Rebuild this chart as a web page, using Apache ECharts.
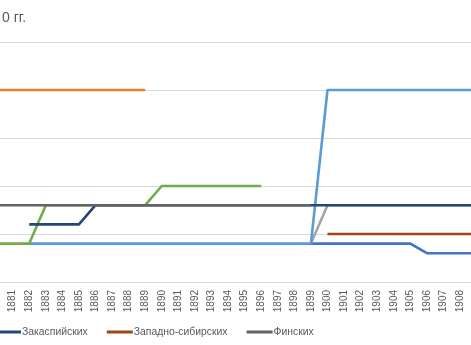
<!DOCTYPE html>
<html>
<head>
<meta charset="utf-8">
<script src="https://cdn.jsdelivr.net/npm/echarts@6/dist/echarts.min.js"></script>
<style>
html,body{margin:0;padding:0;background:#fff;overflow:hidden;width:471px;height:345px;position:relative;}
#chart{position:absolute;left:-40px;top:0;width:560px;height:345px;}
</style>
</head>
<body>
<div id="chart"></div>
<script>
// Categories (years)
var years = [];
for (var y = 1880; y <= 1909; y++) { years.push(String(y)); }

// Series values (null = no data)
var seriesBlue      = [null,null,null,null,null,null,null,null,null,null,null,null,null,null,null,null,null,null,null,4,4,4,4,4,4,4,3,3,3,3];
var seriesOrange    = [20,20,20,20,20,20,20,20,20,20,null,null,null,null,null,null,null,null,null,null,null,null,null,null,null,null,null,null,null,null];
var seriesLightGrey = [null,null,null,null,null,null,null,null,null,null,null,null,null,null,null,null,null,null,null,4,8,8,8,8,8,8,8,8,8,8];
var seriesLightBlue = [null,null,4,4,4,4,4,4,4,4,4,4,4,4,4,4,4,4,4,4,20,20,20,20,20,20,20,20,20,20];
var seriesGreen     = [4,4,4,8,8,8,8,8,8,8,10,10,10,10,10,10,10,null,null,null,null,null,null,null,null,null,null,null,null,null];
var seriesZakasp    = [null,null,6,6,6,6,8,8,8,8,8,8,8,8,8,8,8,8,8,8,8,8,8,8,8,8,8,8,8,8];
var seriesZapSib    = [null,null,null,null,null,null,null,null,null,null,null,null,null,null,null,null,null,null,null,null,5,5,5,5,5,5,5,5,5,5];
var seriesFin       = [8,8,8,8,8,8,8,8,8,8,8,8,8,8,8,8,8,8,8,8,null,null,null,null,null,null,null,null,null,null];

var legendNames = ['Закаспийских', 'Западно-сибирских', 'Финских'];
var titleText = '0 гг.';

var FONT = 'Liberation Sans';
var OFF = 40; // container offset to the left (px)

function mk(name, data, color) {
  var s = {
    type: 'line',
    data: data,
    showSymbol: false,
    symbol: 'none',
    connectNulls: false,
    lineStyle: { width: 2.6, color: color },
    itemStyle: { color: color },
    emphasis: { disabled: true },
    animation: false
  };
  if (name) s.name = name;
  return s;
}

var chart = echarts.init(document.getElementById('chart'), null, { renderer: 'canvas' });
chart.setOption({
  animation: false,
  backgroundColor: '#ffffff',
  title: {
    text: titleText,
    left: OFF - 3,
    top: 6,
    textStyle: { fontFamily: FONT, fontSize: 14, fontWeight: 'normal', color: '#595959' }
  },
  legend: {
    data: legendNames,
    left: OFF - 10,
    top: 322,
    icon: 'rect',
    itemWidth: 26,
    itemHeight: 3,
    itemGap: 19,
    textStyle: { fontFamily: FONT, fontSize: 10.4, color: '#595959', padding: [0, 0, 0, -4] }
  },
  grid: { left: OFF - 12.2, width: 497.1, top: 42, bottom: 63, containLabel: false },
  xAxis: {
    type: 'category',
    data: years,
    boundaryGap: true,
    axisLine: { show: true, lineStyle: { color: '#d9d9d9', width: 1 } },
    axisTick: { show: false },
    axisLabel: { rotate: 90, interval: 0, margin: 8, fontFamily: FONT, fontSize: 10, color: '#595959' },
    splitLine: { show: false }
  },
  yAxis: {
    type: 'value',
    min: 0,
    max: 25,
    interval: 5,
    axisLine: { show: false },
    axisTick: { show: false },
    axisLabel: { show: false },
    splitLine: { show: true, lineStyle: { color: '#d9d9d9', width: 1 } }
  },
  series: [
    mk(null, seriesBlue, '#4472C4'),
    mk(null, seriesOrange, '#ED7D31'),
    mk(null, seriesLightGrey, '#A5A5A5'),
    mk(null, seriesLightBlue, '#5B9BD5'),
    mk(null, seriesGreen, '#70AD47'),
    mk(legendNames[0], seriesZakasp, '#264478'),
    mk(legendNames[1], seriesZapSib, '#9E480E'),
    mk(legendNames[2], seriesFin, '#636363')
  ]
});
</script>
</body>
</html>
